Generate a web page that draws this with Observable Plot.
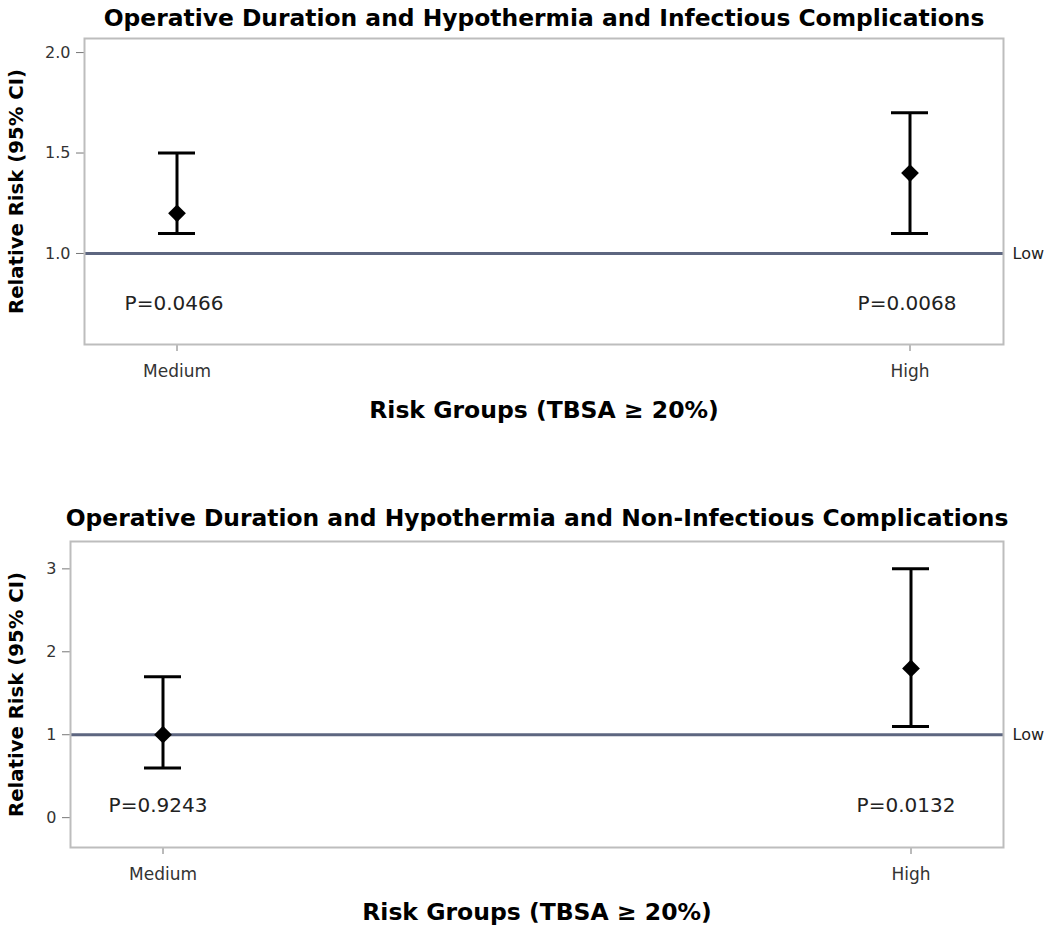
<!DOCTYPE html>
<html>
<head>
<meta charset="utf-8">
<script src="https://cdn.jsdelivr.net/npm/d3@7"></script>
<script src="https://cdn.jsdelivr.net/npm/@observablehq/plot@0.6"></script>
<style>
  body { margin: 0; background: white; }
  #chart svg { display: block; }
</style>
</head>
<body>
<div id="chart"></div>
<script>
// ---- data ----
const groups = ["Medium", "High"];

const infTitle = "Operative Duration and Hypothermia and Infectious Complications";
const infRR = [1.2, 1.4];
const infLo = [1.1, 1.1];
const infHi = [1.5, 1.7];
const infP = ["P=0.0466", "P=0.0068"];
const infTicks = [1.0, 1.5, 2.0];

const nonTitle = "Operative Duration and Hypothermia and Non-Infectious Complications";
const nonRR = [1.0, 1.8];
const nonLo = [0.6, 1.1];
const nonHi = [1.7, 3.0];
const nonP = ["P=0.9243", "P=0.0132"];
const nonTicks = [0, 1, 2, 3];

const yLabel = "Relative Risk (95% CI)";
const xLabel = "Risk Groups (TBSA \u2265 20%)";
const refLabel = "Low";

function panel(cfg) {
  const data = groups.map((g, i) => ({group: g, rr: cfg.rr[i], lo: cfg.lo[i], hi: cfg.hi[i], p: cfg.p[i]}));
  const capOpts = {x: "group", stroke: "black", strokeWidth: 3};
  return Plot.plot({
    width: 1050,
    height: 465,
    marginTop: cfg.marginTop,
    marginBottom: cfg.marginBottom,
    marginLeft: cfg.marginLeft,
    marginRight: 47,
    style: {fontFamily: "DejaVu Sans", background: "white", overflow: "visible"},
    x: {type: "band", domain: groups, paddingInner: cfg.pi, paddingOuter: cfg.po, axis: null},
    y: {domain: cfg.yDomain, axis: null},
    marks: [
      Plot.axisY({ticks: cfg.ticks, tickFormat: cfg.fmt, tickSize: 8, tickPadding: 6, fontSize: 16, stroke: "#777", fill: "#333", label: null}),
      Plot.axisX({tickSize: 7, tickPadding: 13, fontSize: 17, stroke: "#777", fill: "#333", label: null}),
      Plot.ruleY([1], {stroke: "#5d6680", strokeWidth: 3}),
      Plot.frame({stroke: "#bdbdbd", strokeWidth: 2}),
      Plot.ruleX(data, {x: "group", y1: "lo", y2: "hi", stroke: "black", strokeWidth: 3}),
      Plot.tickY(data, {...capOpts, y: "lo"}),
      Plot.tickY(data, {...capOpts, y: "hi"}),
      Plot.dot(data, {x: "group", y: "rr", symbol: "diamond2", r: 8, fill: "black", stroke: "none"}),
      Plot.text(data, {x: "group", y: () => cfg.pY, text: "p", dx: cfg.pDx, fontSize: 20, fill: "#222"}),
      Plot.text([1], {y: d => d, frameAnchor: "right", text: () => refLabel, textAnchor: "start", dx: 9, fontSize: 16, fill: "#222"}),
      Plot.text([cfg.title], {frameAnchor: "top", dy: cfg.titleDy, lineAnchor: "middle", textAnchor: "middle", fontSize: 23.4, fontWeight: "bold", fill: "black"}),
      Plot.text([xLabel], {frameAnchor: "bottom", dy: cfg.xLabelDy, lineAnchor: "middle", textAnchor: "middle", fontSize: 23.5, fontWeight: "bold", fill: "black"}),
      Plot.text([yLabel], {frameAnchor: "left", dx: cfg.yLabelDx, rotate: -90, lineAnchor: "middle", textAnchor: "middle", fontSize: 19.7, fontWeight: "bold", fill: "black"})
    ]
  });
}

const chart = document.getElementById("chart");
chart.appendChild(panel({
  title: infTitle, rr: infRR, lo: infLo, hi: infHi, p: infP,
  ticks: infTicks, fmt: d3.format(".1f"),
  yDomain: [0.547, 2.07], marginTop: 38, marginBottom: 121, marginLeft: 84,
  pi: 0.9495, po: 0.1016, pY: 0.75, pDx: -3, titleDy: -20, xLabelDy: 66, yLabelDx: -68
}));
chart.appendChild(panel({
  title: nonTitle, rr: nonRR, lo: nonLo, hi: nonHi, p: nonP,
  ticks: nonTicks, fmt: d3.format("d"),
  yDomain: [-0.36, 3.33], marginTop: 76, marginBottom: 83, marginLeft: 70,
  pi: 0.9506, po: 0.0982, pY: 0.145, pDx: -5, titleDy: -23, xLabelDy: 65, yLabelDx: -54
}));
</script>
</body>
</html>
